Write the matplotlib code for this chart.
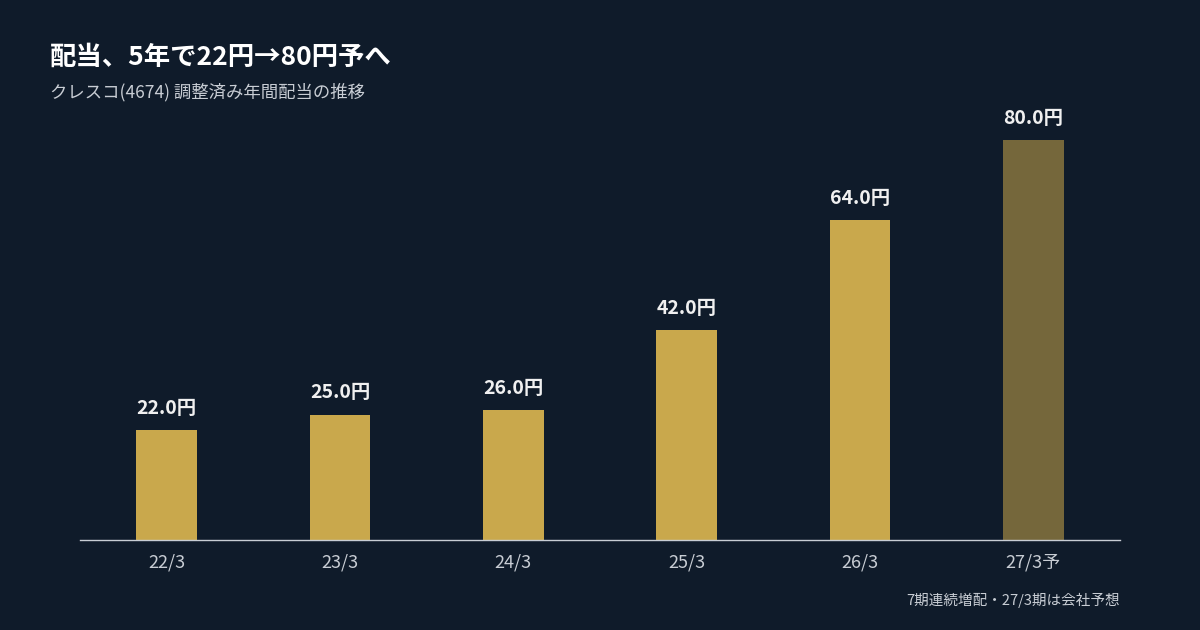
import matplotlib
matplotlib.use("Agg")
import matplotlib.pyplot as plt

plt.rcParams['font.family'] = ['Noto Sans CJK JP', 'DejaVu Sans']

categories = ["22/3", "23/3", "24/3", "25/3", "26/3", "27/3予"]
values = [22.0, 25.0, 26.0, 42.0, 64.0, 80.0]
colors = ["#c9a84c"] * 5 + ["#75673b"]
bg = "#0f1b2a"

fig = plt.figure(figsize=(12, 6.3), dpi=100, facecolor=bg)
ax = fig.add_axes([80/1200, 90/630, 1040/1200, 440/630], facecolor=bg)
x = range(len(categories))
ax.bar(x, values, width=0.35, color=colors)
for i, v in zip(x, values):
    ax.text(i, v + 2.5, f"{v:.1f}円", ha="center", va="bottom", color="#f0f0f0",
            fontsize=14, fontweight="bold")
ax.set_xlim(-0.5, len(categories) - 0.5)
ax.set_ylim(0, 88)
ax.set_xticks(list(x))
ax.set_xticklabels(categories, color="#c8cdd4", fontsize=13)
ax.tick_params(axis="x", length=0, pad=10)
ax.set_yticks([])
for s in ["top", "right", "left"]:
    ax.spines[s].set_visible(False)
ax.spines["bottom"].set_color("#c8cdd4")
ax.spines["bottom"].set_linewidth(1)

fig.text(50/1200, 1 - 57/630, "配当、5年で22円→80円予へ", color="white", fontsize=19,
         fontweight="bold", va="center")
fig.text(50/1200, 1 - 92/630, "クレスコ(4674) 調整済み年間配当の推移", color="#c8cdd4",
         fontsize=12.5, va="center")
fig.text(1120/1200, 1 - 600/630, "7期連続増配・27/3期は会社予想", color="#c8cdd4",
         fontsize=10.5, va="center", ha="right")

fig.savefig("out.png", dpi=100, facecolor=bg)
